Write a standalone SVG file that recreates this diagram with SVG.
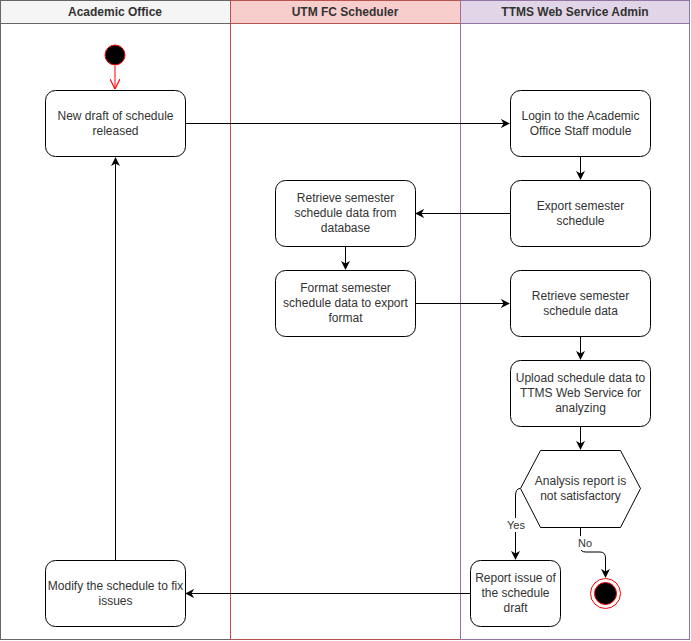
<svg xmlns="http://www.w3.org/2000/svg" width="691" height="641" viewBox="0 0 691 641">
<defs>
<style>
.lane{fill:#ffffff}
.hdr{font-family:"Liberation Sans",Arial,sans-serif;font-size:12px;font-weight:bold;fill:#333333;text-anchor:middle}
.box{fill:#ffffff;stroke:#000000;stroke-width:1}
.t{font-family:"Liberation Sans",Arial,sans-serif;font-size:12px;fill:#333333;text-anchor:middle}
.e{fill:none;stroke:#000000;stroke-width:1}
.lbl{font-family:"Liberation Sans",Arial,sans-serif;font-size:11px;fill:#333333;text-anchor:middle}
</style>
<marker id="ah" viewBox="0 0 10 10" refX="9" refY="5" markerWidth="9" markerHeight="9" markerUnits="userSpaceOnUse" orient="auto">
<path d="M0,0 L10,5 L0,10 L3,5 Z" fill="#000000"/>
</marker>
<marker id="ahr" viewBox="0 0 10 10" refX="10" refY="5" markerWidth="10" markerHeight="10" markerUnits="userSpaceOnUse" orient="auto">
<path d="M0,0 L10,5 L0,10" fill="none" stroke="#ff0000" stroke-width="1.2"/>
</marker>
</defs>
<g id="lane-academic">
<rect x="0.5" y="0.5" width="230" height="639" fill="#ffffff" stroke="#666666"/>
<rect x="0.5" y="0.5" width="230" height="23" fill="#f5f5f5" stroke="#666666"/>
<text class="hdr" x="115" y="16">Academic Office</text>
</g>
<g id="lane-utm">
<rect x="230.5" y="0.5" width="230" height="639" fill="#ffffff" stroke="#b85450"/>
<rect x="230.5" y="0.5" width="230" height="23" fill="#f8cecc" stroke="#b85450"/>
<text class="hdr" x="345" y="16">UTM FC Scheduler</text>
</g>
<g id="lane-ttms">
<rect x="460.5" y="0.5" width="229" height="639" fill="#ffffff" stroke="#9673a6"/>
<rect x="460.5" y="0.5" width="229" height="23" fill="#e1d5e7" stroke="#9673a6"/>
<text class="hdr" x="575" y="16">TTMS Web Service Admin</text>
</g>
<g id="connectors">
<line x1="115" y1="66" x2="115" y2="89" stroke="#ff0000" stroke-width="1" marker-end="url(#ahr)"/>
<line class="e" x1="185" y1="123.5" x2="509" y2="123.5" marker-end="url(#ah)"/>
<line class="e" x1="580.5" y1="157" x2="580.5" y2="179" marker-end="url(#ah)"/>
<line class="e" x1="510" y1="213.5" x2="416" y2="213.5" marker-end="url(#ah)"/>
<line class="e" x1="345.5" y1="247" x2="345.5" y2="269" marker-end="url(#ah)"/>
<line class="e" x1="415" y1="303.5" x2="509" y2="303.5" marker-end="url(#ah)"/>
<line class="e" x1="580.5" y1="337" x2="580.5" y2="359" marker-end="url(#ah)"/>
<line class="e" x1="580.5" y1="427" x2="580.5" y2="449" marker-end="url(#ah)"/>
<path class="e" d="M520,488.5 Q515.5,488.5 515.5,496 L515.5,559" marker-end="url(#ah)"/>
<path class="e" d="M580.5,527 L580.5,548 Q580.5,552 586,552 L600,552 Q605.5,552 605.5,558 L605.5,577" marker-end="url(#ah)"/>
<line class="e" x1="470" y1="593.5" x2="186" y2="593.5" marker-end="url(#ah)"/>
<line class="e" x1="115.5" y1="560" x2="115.5" y2="158" marker-end="url(#ah)"/>
<rect x="505" y="518" width="22" height="14" fill="#ffffff"/>
<text class="lbl" x="516" y="529">Yes</text>
<rect x="575" y="536" width="20" height="14" fill="#ffffff"/>
<text class="lbl" x="585" y="547">No</text>
</g>
<g id="start">
<circle cx="115" cy="55" r="10" fill="#000000" stroke="#ff0000" stroke-width="1"/>
</g>
<g id="n-new-draft">
<rect class="box" x="45.5" y="90.5" width="140" height="66" rx="10"/>
<text class="t" x="115.5" y="120">New draft of schedule</text>
<text class="t" x="115.5" y="135">released</text>
</g>
<g id="n-login">
<rect class="box" x="510.5" y="90.5" width="140" height="66" rx="10"/>
<text class="t" x="580.5" y="120">Login to the Academic</text>
<text class="t" x="580.5" y="135">Office Staff module</text>
</g>
<g id="n-export">
<rect class="box" x="510.5" y="180.5" width="140" height="66" rx="10"/>
<text class="t" x="580.5" y="210">Export semester</text>
<text class="t" x="580.5" y="225">schedule</text>
</g>
<g id="n-retrieve-db">
<rect class="box" x="275.5" y="180.5" width="140" height="66" rx="10"/>
<text class="t" x="345.5" y="202">Retrieve semester</text>
<text class="t" x="345.5" y="217">schedule data from</text>
<text class="t" x="345.5" y="232">database</text>
</g>
<g id="n-format">
<rect class="box" x="275.5" y="270.5" width="140" height="66" rx="10"/>
<text class="t" x="345.5" y="292">Format semester</text>
<text class="t" x="345.5" y="307">schedule data to export</text>
<text class="t" x="345.5" y="322">format</text>
</g>
<g id="n-retrieve">
<rect class="box" x="510.5" y="270.5" width="140" height="66" rx="10"/>
<text class="t" x="580.5" y="300">Retrieve semester</text>
<text class="t" x="580.5" y="315">schedule data</text>
</g>
<g id="n-upload">
<rect class="box" x="510.5" y="360.5" width="140" height="66" rx="10"/>
<text class="t" x="580.5" y="382">Upload schedule data to</text>
<text class="t" x="580.5" y="397">TTMS Web Service for</text>
<text class="t" x="580.5" y="412">analyzing</text>
</g>
<g id="n-decision">
<polygon class="box" points="520.5,488.5 540.5,450.5 620.5,450.5 640.5,488.5 620.5,527.5 540.5,527.5"/>
<text class="t" x="580.5" y="485">Analysis report is</text>
<text class="t" x="580.5" y="500">not satisfactory</text>
</g>
<g id="n-report">
<rect class="box" x="470.5" y="560.5" width="90" height="66" rx="10"/>
<text class="t" x="515.5" y="582">Report issue of</text>
<text class="t" x="515.5" y="597">the schedule</text>
<text class="t" x="515.5" y="612">draft</text>
</g>
<g id="n-modify">
<rect class="box" x="45.5" y="560.5" width="140" height="66" rx="10"/>
<text class="t" x="115.5" y="590">Modify the schedule to fix</text>
<text class="t" x="115.5" y="605">issues</text>
</g>
<g id="end">
<circle cx="605.5" cy="593.5" r="15" fill="#ffffff" stroke="#ff0000" stroke-width="1"/>
<circle cx="605.5" cy="593.5" r="11" fill="#000000" stroke="#ff0000" stroke-width="1"/>
</g>
</svg>
